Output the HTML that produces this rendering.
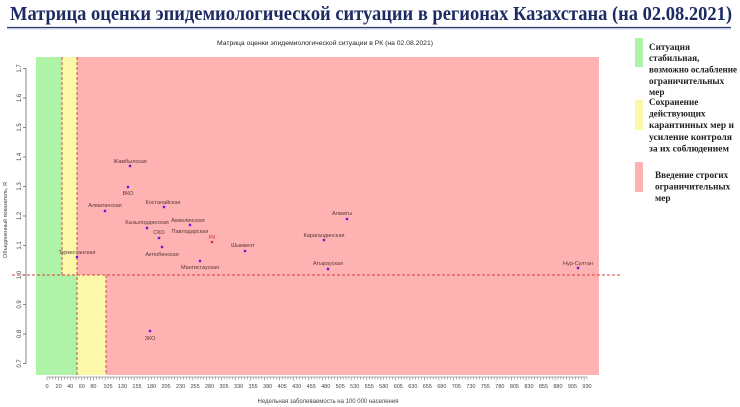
<!DOCTYPE html>
<html><head><meta charset="utf-8"><style>
html,body{margin:0;padding:0;background:#fff;}
svg{display:block;}
.lb{font-family:"Liberation Sans","Noto Sans CJK SC",sans-serif;font-size:5.5px;fill:#5a3838;text-anchor:middle;}
.ax{font-family:"Liberation Sans","Noto Sans CJK SC",sans-serif;font-size:6px;fill:#444;text-anchor:middle;}
.lg{font-family:"Liberation Serif","Noto Serif CJK SC",serif;font-size:9.2px;font-weight:bold;fill:#222;}
</style></head><body>
<svg width="740" height="407" viewBox="0 0 740 407" xmlns="http://www.w3.org/2000/svg">
<rect width="740" height="407" fill="#fff"/>
<!-- main title -->
<text x="10" y="20" font-family="Liberation Serif, serif" font-weight="bold" font-size="19.5" fill="#1c2b63" textLength="722" lengthAdjust="spacingAndGlyphs">Матрица оценки эпидемиологической ситуации в регионах Казахстана (на 02.08.2021)</text>
<line x1="7" y1="27.5" x2="731" y2="27.5" stroke="#2a3a70" stroke-width="1.2"/>
<line x1="7" y1="29" x2="731" y2="29" stroke="#c8cce0" stroke-width="1"/>
<!-- subtitle -->
<text x="217" y="45" font-family="Liberation Sans, sans-serif" font-size="6.5" fill="#222" textLength="216" lengthAdjust="spacingAndGlyphs">Матрица оценки эпидемиологической ситуации в РК (на 02.08.2021)</text>

<!-- zones upper -->
<rect x="36" y="57" width="26" height="218" fill="#aef3a8"/>
<rect x="62" y="57" width="15" height="218" fill="#fbf8a9"/>
<rect x="77" y="57" width="522" height="218" fill="#feb2b2"/>
<!-- zones lower -->
<rect x="36" y="275" width="41" height="100" fill="#aef3a8"/>
<rect x="77" y="275" width="29" height="100" fill="#fbf8a9"/>
<rect x="106" y="275" width="493" height="100" fill="#feb2b2"/>

<!-- dashed lines -->
<g stroke="#c0504d" stroke-width="1" stroke-dasharray="3,2" fill="none">
<line x1="62" y1="57" x2="62" y2="275"/>
<line x1="77" y1="57" x2="77" y2="375"/>
<line x1="106" y1="275" x2="106" y2="375"/>
<line x1="12" y1="275" x2="620" y2="275" stroke="#d8403a"/>
</g>

<!-- y axis -->
<g stroke="#555" stroke-width="0.7">
<line x1="26" y1="68.5" x2="26" y2="363.5"/>
<line x1="23" y1="68.5" x2="26" y2="68.5"/>
<line x1="23" y1="98" x2="26" y2="98"/>
<line x1="23" y1="127.5" x2="26" y2="127.5"/>
<line x1="23" y1="157" x2="26" y2="157"/>
<line x1="23" y1="186.5" x2="26" y2="186.5"/>
<line x1="23" y1="216" x2="26" y2="216"/>
<line x1="23" y1="245.5" x2="26" y2="245.5"/>
<line x1="23" y1="275" x2="26" y2="275"/>
<line x1="23" y1="304.5" x2="26" y2="304.5"/>
<line x1="23" y1="334" x2="26" y2="334"/>
<line x1="23" y1="363.5" x2="26" y2="363.5"/>
</g>
<g class="ax">
<text transform="translate(21,68.5) rotate(-90)">1.7</text>
<text transform="translate(21,98) rotate(-90)">1.6</text>
<text transform="translate(21,127.5) rotate(-90)">1.5</text>
<text transform="translate(21,157) rotate(-90)">1.4</text>
<text transform="translate(21,186.5) rotate(-90)">1.3</text>
<text transform="translate(21,216) rotate(-90)">1.2</text>
<text transform="translate(21,245.5) rotate(-90)">1.1</text>
<text transform="translate(21,275) rotate(-90)">1.0</text>
<text transform="translate(21,304.5) rotate(-90)">0.9</text>
<text transform="translate(21,334) rotate(-90)">0.8</text>
<text transform="translate(21,363.5) rotate(-90)">0.7</text>
<text transform="translate(7,220) rotate(-90)" font-size="5.5">Объединенный показатель, R</text>
</g>

<!-- x axis -->
<line x1="47" y1="377" x2="587" y2="377" stroke="#666" stroke-width="0.6"/>
<g id="xt" stroke="#666" stroke-width="0.5"></g>
<g class="ax" id="xl"></g>
<text class="ax" x="328" y="403" font-size="5.5">Недельная заболеваемость на 100 000 населения</text>

<!-- points & labels -->
<g fill="#6a1bd8">
<rect x="128.8" y="164.8" width="2.4" height="2.4"/>
<rect x="126.8" y="185.8" width="2.4" height="2.4"/>
<rect x="103.8" y="209.8" width="2.4" height="2.4"/>
<rect x="162.8" y="205.8" width="2.4" height="2.4"/>
<rect x="145.8" y="226.8" width="2.4" height="2.4"/>
<rect x="188.8" y="223.8" width="2.4" height="2.4"/>
<rect x="157.8" y="236.8" width="2.4" height="2.4"/>
<rect x="160.8" y="245.8" width="2.4" height="2.4"/>
<rect x="75.8" y="255.8" width="2.4" height="2.4"/>
<rect x="198.8" y="259.8" width="2.4" height="2.4"/>
<rect x="243.8" y="249.8" width="2.4" height="2.4"/>
<rect x="345.8" y="217.8" width="2.4" height="2.4"/>
<rect x="322.8" y="238.8" width="2.4" height="2.4"/>
<rect x="326.8" y="267.8" width="2.4" height="2.4"/>
<rect x="576.8" y="266.8" width="2.4" height="2.4"/>
<rect x="148.8" y="329.8" width="2.4" height="2.4"/>
</g>
<rect x="210.8" y="240.8" width="2.4" height="2.4" fill="#e03030"/>
<g class="lb">
<text x="130" y="163">Жамбылская</text>
<text x="128" y="195">ВКО</text>
<text x="105" y="207">Алматинская</text>
<text x="163" y="204">Костанайская</text>
<text x="147" y="224">Кызылординская</text>
<text x="188" y="222">Акмолинская</text>
<text x="190" y="233">Павлодарская</text>
<text x="159" y="234">СКО</text>
<text x="162" y="256">Актюбинская</text>
<text x="77" y="254">Туркестанская</text>
<text x="200" y="269">Мангистауская</text>
<text x="243" y="247">Шымкент</text>
<text x="342" y="215">Алматы</text>
<text x="324" y="237">Карагандинская</text>
<text x="328" y="265">Атырауская</text>
<text x="578" y="265">Нур-Султан</text>
<text x="150" y="340">ЗКО</text>
<text x="212" y="239" style="fill:#e03030">РК</text>
</g>

<!-- legend -->
<rect x="635" y="38" width="8" height="29" fill="#aef3a8"/>
<rect x="635" y="100" width="8" height="30" fill="#fbf8a9"/>
<rect x="635" y="162" width="8" height="30" fill="#feb2b2"/>
<g class="lg">
<text x="649" y="50">Ситуация</text>
<text x="649" y="61">стабильная,</text>
<text x="649" y="72.5" textLength="88" lengthAdjust="spacingAndGlyphs">возможно ослабление</text>
<text x="649" y="84">ограничительных</text>
<text x="649" y="95">мер</text>
<text x="649" y="105">Сохранение</text>
<text x="649" y="116.5">действующих</text>
<text x="649" y="128" textLength="85" lengthAdjust="spacingAndGlyphs">карантинных мер и</text>
<text x="649" y="140" textLength="83" lengthAdjust="spacingAndGlyphs">усиление контроля</text>
<text x="649" y="151.5" textLength="80" lengthAdjust="spacingAndGlyphs">за их соблюдением</text>
<text x="655" y="178">Введение строгих</text>
<text x="655" y="189.5">ограничительных</text>
<text x="655" y="201">мер</text>
</g>
<script>
(function(){
var ns="http://www.w3.org/2000/svg";
var t=document.getElementById("xt"),l=document.getElementById("xl");
function X(v){return 47+v*540/930;}
for(var v=0;v<=930;v+=5){
 var ln=document.createElementNS(ns,"line");
 var x=X(v);
 ln.setAttribute("x1",x);ln.setAttribute("x2",x);
 ln.setAttribute("y1",377);ln.setAttribute("y2",(v%25==0||v<=80&&v%20==0)?380.5:379.5);
 t.appendChild(ln);
}
var labs=[0,20,40,60,80];
for(var v=105;v<=930;v+=25)labs.push(v);
labs.forEach(function(v){
 var tx=document.createElementNS(ns,"text");
 tx.setAttribute("x",X(v));tx.setAttribute("y",388);
 tx.setAttribute("font-size","5.5");
 tx.textContent=String(v);l.appendChild(tx);
});
})();
</script>
</svg>
</body></html>
